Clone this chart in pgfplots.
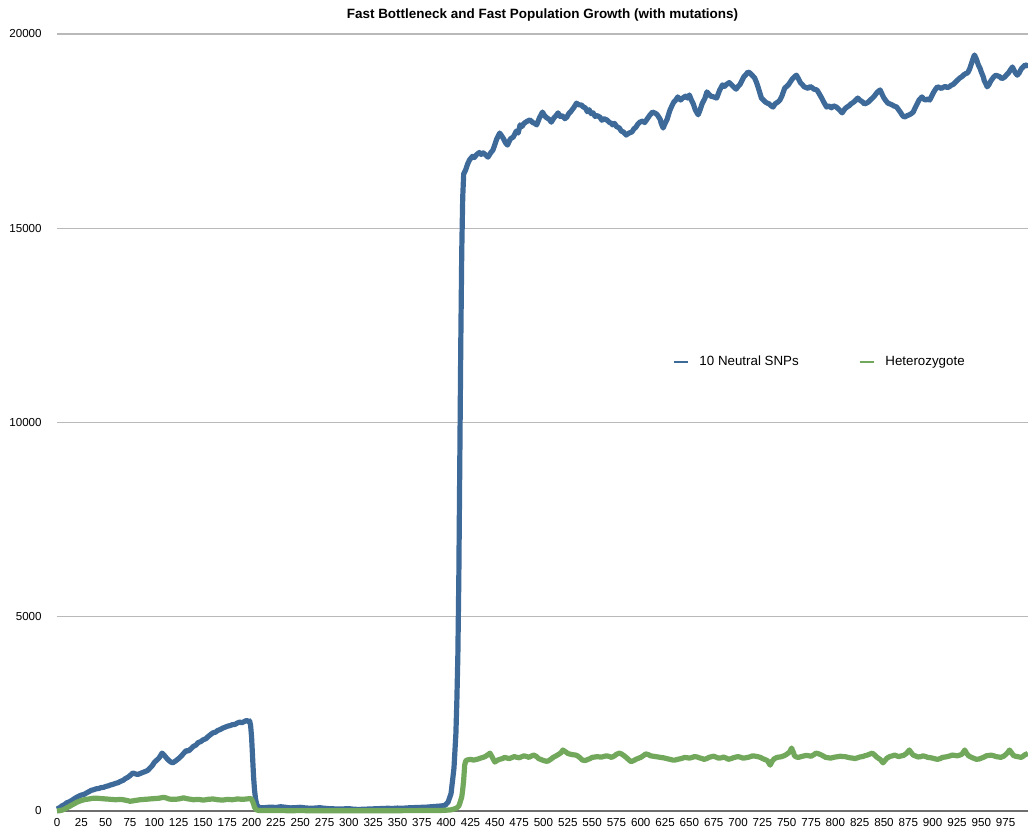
\documentclass[border=0pt]{standalone}
\usepackage{fontspec}
\setmainfont{Liberation Sans}
\usepackage{pgfplots}
\pgfplotsset{compat=1.18}
\usetikzlibrary{calc}
\definecolor{snpblue}{RGB}{62,106,154}
\definecolor{hetgreen}{RGB}{113,168,92}
\definecolor{gridgray}{RGB}{185,185,185}
\definecolor{axisgray}{RGB}{110,110,110}
\begin{document}
\begin{tikzpicture}
\begin{axis}[
  name=ax,
  scale only axis,
  width=728.25pt, height=582.75pt,
  xmin=0, xmax=998, ymin=0, ymax=20000,
  clip=false,
  scaled y ticks=false,
  axis line style={draw=none},
  major tick length=0pt,
  xtick={0,25,...,975},
  ytick={5000,10000,15000,20000},
  extra y ticks={0},
  extra y tick style={grid style={draw=axisgray, line width=1.2pt}},
  ymajorgrids,
  grid style={draw=gridgray, line width=0.8pt},
  /pgf/number format/1000 sep={},
  /pgf/number format/assume math mode=true,
  tick label style={font=\fontsize{8.7}{10}\selectfont},
  yticklabel style={anchor=east, xshift=-8pt, /pgf/number format/fixed},
  xticklabel style={anchor=north, yshift=-2pt},
  title={Fast Bottleneck and Fast Population Growth (with mutations)},
  title style={font=\fontsize{10.1}{12}\selectfont\bfseries, at={(0.5,1)}, anchor=center, yshift=8pt},
  legend style={at={(0.634,0.578)}, anchor=west, draw=none, fill=none, inner sep=0pt,
    font=\fontsize{10}{12}\selectfont, legend columns=2,
    /tikz/every even column/.append style={column sep=43pt}},
  legend cell align=left,
  legend image code/.code={\draw[line width=2pt] (0pt,0pt) -- (10.5pt,0pt); \path (15pt,0pt);},
]
\addplot[snpblue, line width=3.9pt, line join=round] coordinates {
(0,50)(3,90)(5,130)(8,170)(10,210)(13,240)(15,270)(18,320)(20,350)(23,390)(25,410)(28,430)(30,460)(33,500)(35,530)(38,550)(40,570)(43,580)(45,600)(48,610)(50,630)(53,650)(55,670)(58,690)(60,710)(63,730)(65,760)(68,790)(70,830)(73,870)(75,910)(78,980)(80,960)(83,940)(85,960)(88,990)(90,1010)(93,1040)(95,1090)(98,1170)(100,1250)(103,1320)(105,1370)(108,1490)(110,1440)(113,1350)(115,1300)(117,1260)(119,1240)(122,1290)(125,1350)(128,1420)(130,1480)(133,1560)(135,1540)(138,1610)(140,1660)(143,1700)(145,1760)(148,1790)(150,1830)(153,1860)(155,1910)(158,1970)(160,2010)(163,2030)(165,2070)(168,2100)(170,2130)(173,2160)(175,2180)(178,2200)(180,2220)(183,2230)(185,2260)(188,2290)(190,2270)(193,2310)(195,2330)(197,2300)(198,2320)(199,2200)(200,1900)(201,1400)(202,900)(203,550)(204,320)(205,200)(206,130)(208,90)(210,80)(215,90)(220,100)(225,90)(230,110)(235,95)(240,80)(245,85)(250,95)(255,80)(260,70)(265,75)(270,85)(275,70)(280,60)(285,55)(290,50)(295,55)(300,60)(305,45)(310,40)(315,45)(320,50)(325,55)(330,60)(335,65)(340,70)(345,65)(350,75)(355,70)(360,80)(365,85)(370,90)(375,95)(380,100)(385,110)(390,120)(395,130)(399,150)(402,230)(405,450)(408,1100)(410,2000)(411,2860)(412,4000)(413,6000)(414,9000)(415,12000)(416,14400)(417,15800)(418,16400)(420,16500)(422,16650)(424,16760)(427,16850)(429,16820)(431,16890)(434,16950)(436,16900)(438,16940)(441,16880)(443,16830)(446,16950)(448,17010)(450,17150)(452,17300)(455,17450)(457,17380)(459,17300)(461,17200)(463,17140)(466,17300)(469,17350)(472,17500)(474,17450)(476,17660)(478,17620)(480,17700)(483,17750)(486,17790)(489,17720)(491,17700)(493,17660)(496,17850)(499,17990)(501,17900)(503,17850)(506,17800)(508,17730)(511,17850)(513,17900)(515,17970)(517,17880)(519,17900)(522,17820)(524,17860)(526,17950)(528,18000)(531,18100)(534,18220)(536,18180)(539,18170)(541,18120)(543,18100)(545,18000)(547,18050)(549,17950)(551,17970)(553,17880)(555,17900)(558,17860)(560,17780)(562,17820)(565,17790)(568,17720)(570,17700)(571,17660)(573,17700)(575,17620)(578,17580)(580,17500)(582,17480)(585,17400)(588,17450)(591,17480)(593,17560)(595,17600)(597,17680)(599,17730)(602,17760)(604,17720)(606,17790)(609,17900)(612,17990)(615,17960)(617,17920)(620,17800)(621,17700)(623,17580)(625,17700)(627,17800)(630,18040)(632,18150)(634,18250)(636,18300)(638,18380)(641,18300)(643,18350)(646,18400)(648,18350)(650,18430)(652,18300)(654,18200)(656,18050)(659,17920)(661,18050)(663,18200)(666,18350)(668,18510)(670,18450)(672,18400)(675,18380)(678,18350)(681,18550)(684,18690)(686,18650)(688,18700)(691,18750)(693,18700)(695,18650)(698,18580)(700,18650)(702,18700)(704,18800)(706,18900)(708,18950)(710,19020)(712,19000)(714,18950)(717,18870)(719,18750)(721,18600)(724,18350)(726,18300)(728,18250)(730,18220)(732,18200)(734,18150)(736,18120)(738,18200)(741,18250)(743,18300)(745,18400)(748,18610)(750,18650)(752,18700)(754,18780)(756,18850)(758,18900)(760,18940)(762,18850)(764,18750)(766,18700)(768,18640)(770,18620)(772,18600)(774,18650)(776,18620)(778,18580)(781,18560)(783,18480)(786,18350)(788,18250)(791,18120)(793,18150)(796,18100)(798,18150)(801,18120)(804,18050)(807,17970)(810,18080)(812,18120)(814,18150)(816,18200)(819,18250)(821,18300)(823,18350)(825,18300)(828,18250)(830,18200)(832,18220)(834,18250)(836,18300)(838,18350)(840,18400)(843,18500)(846,18560)(848,18450)(850,18350)(852,18280)(854,18220)(856,18200)(858,18180)(860,18150)(863,18120)(865,18050)(867,17980)(869,17900)(871,17860)(874,17900)(876,17920)(878,17950)(880,17990)(882,18100)(884,18200)(886,18300)(889,18380)(891,18320)(893,18300)(895,18330)(897,18300)(899,18400)(901,18500)(903,18580)(905,18640)(907,18620)(909,18600)(911,18630)(913,18650)(915,18620)(917,18640)(919,18680)(921,18700)(923,18750)(925,18800)(928,18870)(930,18900)(932,18950)(934,18980)(936,19000)(938,19100)(940,19250)(942,19400)(943,19460)(945,19350)(947,19200)(949,19100)(950,19020)(952,18900)(953,18800)(955,18700)(956,18640)(958,18700)(960,18800)(963,18900)(965,18940)(967,18920)(969,18900)(971,18850)(974,18890)(976,18950)(978,19000)(980,19080)(982,19150)(984,19050)(985,19000)(987,18940)(989,19000)(991,19100)(993,19150)(995,19200)(997,19180)(998,19250)
};
\addlegendentry{10 Neutral SNPs}
\addplot[hetgreen, line width=3.9pt, line join=round] coordinates {
(0,0)(3,10)(5,20)(8,50)(10,80)(13,120)(15,150)(18,190)(20,220)(23,250)(25,270)(28,290)(30,300)(33,310)(35,320)(38,330)(40,330)(43,325)(45,320)(48,315)(50,310)(53,305)(55,300)(58,295)(60,290)(63,295)(65,300)(68,290)(70,280)(73,265)(75,250)(78,260)(80,270)(83,280)(85,290)(88,295)(90,300)(93,305)(95,310)(98,315)(100,320)(103,325)(105,330)(108,345)(110,350)(113,330)(115,310)(118,300)(120,300)(123,305)(125,310)(128,325)(130,340)(133,320)(135,310)(138,300)(140,290)(143,295)(145,300)(148,290)(150,280)(153,290)(155,300)(158,305)(160,310)(163,300)(165,290)(168,285)(170,280)(173,290)(175,300)(178,295)(180,290)(183,300)(185,310)(188,305)(190,300)(193,305)(195,310)(197,315)(199,320)(200,300)(201,250)(202,180)(203,100)(204,60)(205,30)(207,15)(210,10)(220,12)(230,10)(240,8)(250,10)(260,8)(270,6)(280,5)(290,5)(300,5)(310,5)(320,6)(330,6)(340,8)(350,8)(360,10)(370,10)(380,12)(390,15)(395,15)(400,20)(405,30)(408,50)(411,80)(413,130)(414,200)(415,280)(416,360)(417,550)(418,800)(419,1180)(420,1280)(421,1310)(423,1320)(425,1330)(428,1310)(430,1320)(433,1340)(435,1360)(438,1380)(440,1400)(443,1450)(445,1490)(447,1400)(450,1260)(453,1310)(455,1330)(458,1350)(460,1380)(463,1360)(465,1350)(468,1380)(470,1400)(473,1380)(475,1370)(478,1400)(480,1420)(483,1400)(485,1380)(488,1420)(490,1440)(493,1400)(495,1350)(498,1320)(500,1300)(503,1280)(505,1290)(508,1340)(510,1380)(513,1420)(515,1450)(518,1500)(520,1570)(523,1520)(525,1480)(528,1460)(530,1450)(533,1440)(535,1420)(538,1360)(540,1310)(543,1300)(545,1320)(548,1350)(550,1380)(553,1390)(555,1400)(558,1390)(560,1390)(563,1410)(565,1420)(568,1400)(570,1380)(573,1420)(575,1460)(578,1490)(580,1470)(583,1420)(585,1380)(588,1310)(590,1270)(593,1300)(595,1330)(598,1360)(600,1380)(603,1430)(605,1470)(608,1450)(610,1420)(613,1410)(615,1400)(618,1390)(620,1380)(623,1370)(625,1360)(628,1340)(630,1330)(633,1310)(635,1310)(638,1330)(640,1340)(643,1360)(645,1380)(648,1370)(650,1360)(653,1380)(655,1400)(658,1390)(660,1370)(663,1350)(665,1330)(668,1350)(670,1380)(673,1400)(675,1410)(678,1380)(680,1360)(683,1370)(685,1390)(688,1360)(690,1330)(693,1350)(695,1370)(698,1390)(700,1400)(703,1380)(705,1360)(708,1370)(710,1380)(713,1400)(715,1420)(718,1410)(720,1400)(723,1380)(725,1350)(728,1320)(730,1300)(733,1180)(735,1280)(737,1340)(740,1380)(743,1390)(745,1400)(748,1430)(750,1460)(753,1520)(755,1620)(757,1500)(758,1420)(760,1390)(762,1380)(765,1400)(768,1420)(770,1430)(773,1420)(775,1410)(778,1450)(780,1490)(783,1470)(785,1450)(788,1410)(790,1380)(793,1370)(795,1360)(798,1380)(800,1390)(803,1400)(805,1410)(808,1400)(810,1400)(813,1380)(815,1370)(818,1360)(820,1350)(823,1370)(825,1390)(828,1400)(830,1420)(833,1440)(835,1460)(838,1490)(840,1450)(842,1400)(844,1360)(846,1330)(849,1240)(851,1300)(853,1360)(855,1390)(857,1410)(859,1420)(861,1440)(863,1420)(865,1400)(868,1420)(870,1430)(873,1480)(876,1570)(878,1500)(880,1440)(883,1410)(885,1390)(888,1400)(890,1420)(893,1400)(895,1380)(898,1370)(900,1360)(903,1340)(905,1330)(908,1350)(910,1380)(913,1390)(915,1400)(918,1420)(920,1440)(923,1430)(925,1420)(928,1440)(930,1460)(933,1570)(935,1480)(937,1420)(940,1380)(943,1350)(945,1330)(948,1340)(950,1360)(953,1390)(955,1420)(958,1430)(960,1440)(963,1420)(965,1400)(968,1390)(970,1380)(973,1410)(975,1450)(977,1500)(979,1570)(981,1500)(983,1430)(985,1410)(987,1400)(989,1390)(991,1380)(993,1410)(995,1450)(997,1470)(998,1490)
};
\addlegendentry{Heterozygote}
\end{axis}
\pgfresetboundingbox
\path ($(ax.south west)+(-42.75pt,-15pt)$) rectangle ($(ax.north east)+(0pt,25.5pt)$);
\end{tikzpicture}
\end{document}
